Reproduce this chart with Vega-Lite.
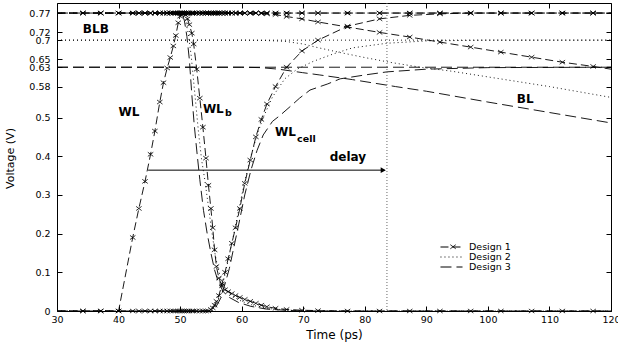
{
  "$schema": "https://vega.github.io/schema/vega-lite/v6.json",
  "width": 554,
  "height": 308,
  "autosize": {"type": "none"},
  "padding": {"left": 57, "top": 3, "right": 7, "bottom": 32},
  "background": "white",
  "config": {
    "view": {"stroke": "black", "strokeWidth": 1},
    "font": "DejaVu Sans",
    "axis": {"labelFont": "DejaVu Sans", "labelFontSize": 9.5, "labelColor": "black", "tickColor": "black", "domain": false, "grid": false, "labelOverlap": false, "labelBound": false, "labelFlush": false}
  },
  "datasets": {
    "curves": [
      {"design": "Design 1", "t": 30, "WL": 0, "WLb": 0.77, "WLcell": 0, "BL": 0.77, "BLB": 0.77},
      {"design": "Design 1", "t": 34.2, "WL": 0, "WLb": 0.77, "WLcell": 0, "BL": 0.77, "BLB": 0.77},
      {"design": "Design 1", "t": 37.1, "WL": 0, "WLb": 0.77, "WLcell": 0, "BL": 0.77, "BLB": 0.77},
      {"design": "Design 1", "t": 40.0, "WL": 0, "WLb": 0.77, "WLcell": 0, "BL": 0.77, "BLB": 0.77},
      {"design": "Design 1", "t": 42.3, "WL": 0.19, "WLb": 0.77, "WLcell": 0, "BL": 0.77, "BLB": 0.77},
      {"design": "Design 1", "t": 43.3, "WL": 0.265, "WLb": 0.77, "WLcell": 0, "BL": 0.77, "BLB": 0.77},
      {"design": "Design 1", "t": 44.3, "WL": 0.335, "WLb": 0.77, "WLcell": 0, "BL": 0.77, "BLB": 0.77},
      {"design": "Design 1", "t": 45.2, "WL": 0.405, "WLb": 0.77, "WLcell": 0, "BL": 0.77, "BLB": 0.77},
      {"design": "Design 1", "t": 45.9, "WL": 0.465, "WLb": 0.77, "WLcell": 0, "BL": 0.77, "BLB": 0.77},
      {"design": "Design 1", "t": 46.7, "WL": 0.54, "WLb": 0.77, "WLcell": 0, "BL": 0.77, "BLB": 0.77},
      {"design": "Design 1", "t": 47.3, "WL": 0.59, "WLb": 0.77, "WLcell": 0, "BL": 0.77, "BLB": 0.77},
      {"design": "Design 1", "t": 47.9, "WL": 0.628, "WLb": 0.77, "WLcell": 0, "BL": 0.77, "BLB": 0.77},
      {"design": "Design 1", "t": 48.4, "WL": 0.655, "WLb": 0.77, "WLcell": 0, "BL": 0.77, "BLB": 0.77},
      {"design": "Design 1", "t": 48.9, "WL": 0.685, "WLb": 0.77, "WLcell": 0, "BL": 0.77, "BLB": 0.77},
      {"design": "Design 1", "t": 49.3, "WL": 0.712, "WLb": 0.77, "WLcell": 0, "BL": 0.77, "BLB": 0.77},
      {"design": "Design 1", "t": 49.7, "WL": 0.745, "WLb": 0.77, "WLcell": 0, "BL": 0.77, "BLB": 0.77},
      {"design": "Design 1", "t": 50.0, "WL": 0.762, "WLb": 0.77, "WLcell": 0, "BL": 0.77, "BLB": 0.77},
      {"design": "Design 1", "t": 50.3, "WL": 0.77, "WLb": 0.77, "WLcell": 0, "BL": 0.77, "BLB": 0.77},
      {"design": "Design 1", "t": 50.6, "WL": 0.77, "WLb": 0.768, "WLcell": 0, "BL": 0.77, "BLB": 0.77},
      {"design": "Design 1", "t": 50.9, "WL": 0.77, "WLb": 0.765, "WLcell": 0, "BL": 0.77, "BLB": 0.77},
      {"design": "Design 1", "t": 51.2, "WL": 0.77, "WLb": 0.755, "WLcell": 0, "BL": 0.77, "BLB": 0.77},
      {"design": "Design 1", "t": 51.5, "WL": 0.77, "WLb": 0.74, "WLcell": 0, "BL": 0.77, "BLB": 0.77},
      {"design": "Design 1", "t": 51.9, "WL": 0.77, "WLb": 0.718, "WLcell": 0, "BL": 0.77, "BLB": 0.77},
      {"design": "Design 1", "t": 52.2, "WL": 0.77, "WLb": 0.69, "WLcell": 0, "BL": 0.77, "BLB": 0.77},
      {"design": "Design 1", "t": 52.7, "WL": 0.77, "WLb": 0.625, "WLcell": 0, "BL": 0.77, "BLB": 0.77},
      {"design": "Design 1", "t": 53.2, "WL": 0.77, "WLb": 0.55, "WLcell": 0, "BL": 0.77, "BLB": 0.77},
      {"design": "Design 1", "t": 53.7, "WL": 0.77, "WLb": 0.475, "WLcell": 0, "BL": 0.77, "BLB": 0.77},
      {"design": "Design 1", "t": 54.2, "WL": 0.77, "WLb": 0.395, "WLcell": 0, "BL": 0.77, "BLB": 0.77},
      {"design": "Design 1", "t": 54.6, "WL": 0.77, "WLb": 0.325, "WLcell": 0, "BL": 0.77, "BLB": 0.77},
      {"design": "Design 1", "t": 55.0, "WL": 0.77, "WLb": 0.265, "WLcell": 0.004, "BL": 0.77, "BLB": 0.77},
      {"design": "Design 1", "t": 55.3, "WL": 0.77, "WLb": 0.215, "WLcell": 0.008, "BL": 0.77, "BLB": 0.77},
      {"design": "Design 1", "t": 55.6, "WL": 0.77, "WLb": 0.158, "WLcell": 0.015, "BL": 0.77, "BLB": 0.77},
      {"design": "Design 1", "t": 55.9, "WL": 0.77, "WLb": 0.115, "WLcell": 0.025, "BL": 0.77, "BLB": 0.77},
      {"design": "Design 1", "t": 56.3, "WL": 0.77, "WLb": 0.085, "WLcell": 0.04, "BL": 0.77, "BLB": 0.77},
      {"design": "Design 1", "t": 56.8, "WL": 0.77, "WLb": 0.065, "WLcell": 0.07, "BL": 0.77, "BLB": 0.77},
      {"design": "Design 1", "t": 57.3, "WL": 0.77, "WLb": 0.055, "WLcell": 0.1, "BL": 0.77, "BLB": 0.77},
      {"design": "Design 1", "t": 57.8, "WL": 0.77, "WLb": 0.05, "WLcell": 0.135, "BL": 0.77, "BLB": 0.77},
      {"design": "Design 1", "t": 58.4, "WL": 0.77, "WLb": 0.045, "WLcell": 0.175, "BL": 0.77, "BLB": 0.77},
      {"design": "Design 1", "t": 59.0, "WL": 0.77, "WLb": 0.04, "WLcell": 0.215, "BL": 0.77, "BLB": 0.77},
      {"design": "Design 1", "t": 59.7, "WL": 0.77, "WLb": 0.035, "WLcell": 0.265, "BL": 0.77, "BLB": 0.77},
      {"design": "Design 1", "t": 60.5, "WL": 0.77, "WLb": 0.03, "WLcell": 0.33, "BL": 0.77, "BLB": 0.77},
      {"design": "Design 1", "t": 61.4, "WL": 0.77, "WLb": 0.025, "WLcell": 0.39, "BL": 0.77, "BLB": 0.77},
      {"design": "Design 1", "t": 62.3, "WL": 0.77, "WLb": 0.02, "WLcell": 0.45, "BL": 0.77, "BLB": 0.77},
      {"design": "Design 1", "t": 63.2, "WL": 0.77, "WLb": 0.015, "WLcell": 0.495, "BL": 0.769, "BLB": 0.77},
      {"design": "Design 1", "t": 64.1, "WL": 0.77, "WLb": 0.011, "WLcell": 0.535, "BL": 0.768, "BLB": 0.77},
      {"design": "Design 1", "t": 65.5, "WL": 0.77, "WLb": 0.007, "WLcell": 0.58, "BL": 0.766, "BLB": 0.77},
      {"design": "Design 1", "t": 67.3, "WL": 0.77, "WLb": 0.004, "WLcell": 0.63, "BL": 0.761, "BLB": 0.77},
      {"design": "Design 1", "t": 69.8, "WL": 0.77, "WLb": 0.002, "WLcell": 0.672, "BL": 0.755, "BLB": 0.77},
      {"design": "Design 1", "t": 72.4, "WL": 0.77, "WLb": 0.001, "WLcell": 0.70, "BL": 0.747, "BLB": 0.77},
      {"design": "Design 1", "t": 77.2, "WL": 0.77, "WLb": 0, "WLcell": 0.736, "BL": 0.734, "BLB": 0.77},
      {"design": "Design 1", "t": 82.4, "WL": 0.77, "WLb": 0, "WLcell": 0.755, "BL": 0.72, "BLB": 0.77},
      {"design": "Design 1", "t": 87.3, "WL": 0.77, "WLb": 0, "WLcell": 0.764, "BL": 0.708, "BLB": 0.77},
      {"design": "Design 1", "t": 92.2, "WL": 0.77, "WLb": 0, "WLcell": 0.768, "BL": 0.695, "BLB": 0.77},
      {"design": "Design 1", "t": 97.2, "WL": 0.77, "WLb": 0, "WLcell": 0.77, "BL": 0.682, "BLB": 0.77},
      {"design": "Design 1", "t": 102.1, "WL": 0.77, "WLb": 0, "WLcell": 0.77, "BL": 0.669, "BLB": 0.77},
      {"design": "Design 1", "t": 107.1, "WL": 0.77, "WLb": 0, "WLcell": 0.77, "BL": 0.656, "BLB": 0.77},
      {"design": "Design 1", "t": 112.1, "WL": 0.77, "WLb": 0, "WLcell": 0.77, "BL": 0.643, "BLB": 0.77},
      {"design": "Design 1", "t": 117.1, "WL": 0.77, "WLb": 0, "WLcell": 0.77, "BL": 0.632, "BLB": 0.77},
      {"design": "Design 1", "t": 120, "WL": 0.77, "WLb": 0, "WLcell": 0.77, "BL": 0.625, "BLB": 0.77},

      {"design": "Design 2", "t": 30, "WLb": 0.77, "WLcell": 0, "BL": 0.70, "BLB": 0.70},
      {"design": "Design 2", "t": 50.3, "WLb": 0.77},
      {"design": "Design 2", "t": 50.8, "WLb": 0.755},
      {"design": "Design 2", "t": 51.3, "WLb": 0.72},
      {"design": "Design 2", "t": 51.8, "WLb": 0.66},
      {"design": "Design 2", "t": 52.4, "WLb": 0.56},
      {"design": "Design 2", "t": 53.0, "WLb": 0.46},
      {"design": "Design 2", "t": 53.5, "WLb": 0.39},
      {"design": "Design 2", "t": 54.0, "WLb": 0.34},
      {"design": "Design 2", "t": 54.6, "WLb": 0.27},
      {"design": "Design 2", "t": 54.8, "WLcell": 0},
      {"design": "Design 2", "t": 55.2, "WLb": 0.2},
      {"design": "Design 2", "t": 55.5, "WLcell": 0.008},
      {"design": "Design 2", "t": 55.7, "WLb": 0.145},
      {"design": "Design 2", "t": 56.1, "WLb": 0.114},
      {"design": "Design 2", "t": 56.2, "WLcell": 0.03},
      {"design": "Design 2", "t": 56.7, "WLb": 0.08},
      {"design": "Design 2", "t": 57.0, "WLcell": 0.075},
      {"design": "Design 2", "t": 57.5, "WLb": 0.055},
      {"design": "Design 2", "t": 57.8, "WLcell": 0.13},
      {"design": "Design 2", "t": 58.5, "WLb": 0.038},
      {"design": "Design 2", "t": 58.6, "WLcell": 0.19},
      {"design": "Design 2", "t": 59.5, "WLcell": 0.26},
      {"design": "Design 2", "t": 60, "WLb": 0.025, "BL": 0.70},
      {"design": "Design 2", "t": 60.5, "WLcell": 0.335},
      {"design": "Design 2", "t": 61.5, "WLcell": 0.40},
      {"design": "Design 2", "t": 62, "WLb": 0.014},
      {"design": "Design 2", "t": 62.5, "WLcell": 0.455},
      {"design": "Design 2", "t": 63.5, "WLcell": 0.50},
      {"design": "Design 2", "t": 64, "BL": 0.699},
      {"design": "Design 2", "t": 64.5, "WLb": 0.006},
      {"design": "Design 2", "t": 65, "WLcell": 0.553},
      {"design": "Design 2", "t": 67, "WLcell": 0.60, "BL": 0.697},
      {"design": "Design 2", "t": 68, "WLb": 0.002},
      {"design": "Design 2", "t": 69, "WLcell": 0.625},
      {"design": "Design 2", "t": 70, "BL": 0.69},
      {"design": "Design 2", "t": 71.6, "WLcell": 0.645},
      {"design": "Design 2", "t": 72, "WLb": 0, "BL": 0.682},
      {"design": "Design 2", "t": 75, "WLcell": 0.665},
      {"design": "Design 2", "t": 76, "BL": 0.668},
      {"design": "Design 2", "t": 78, "WLcell": 0.68},
      {"design": "Design 2", "t": 80, "BL": 0.655},
      {"design": "Design 2", "t": 83.6, "WLcell": 0.692},
      {"design": "Design 2", "t": 84, "BL": 0.643},
      {"design": "Design 2", "t": 89, "BL": 0.63},
      {"design": "Design 2", "t": 90, "WLcell": 0.698},
      {"design": "Design 2", "t": 94, "BL": 0.62},
      {"design": "Design 2", "t": 98, "BL": 0.61},
      {"design": "Design 2", "t": 100, "WLcell": 0.70},
      {"design": "Design 2", "t": 104, "BL": 0.595},
      {"design": "Design 2", "t": 110, "BL": 0.58},
      {"design": "Design 2", "t": 115, "BL": 0.566},
      {"design": "Design 2", "t": 120, "WLb": 0, "WLcell": 0.70, "BL": 0.552, "BLB": 0.70},

      {"design": "Design 3", "t": 30, "WLb": 0.77, "WLcell": 0, "BL": 0.63, "BLB": 0.63},
      {"design": "Design 3", "t": 50.3, "WLb": 0.77},
      {"design": "Design 3", "t": 50.7, "WLb": 0.75},
      {"design": "Design 3", "t": 51.1, "WLb": 0.71},
      {"design": "Design 3", "t": 51.5, "WLb": 0.65},
      {"design": "Design 3", "t": 51.9, "WLb": 0.56},
      {"design": "Design 3", "t": 52.3, "WLb": 0.48},
      {"design": "Design 3", "t": 52.8, "WLb": 0.40},
      {"design": "Design 3", "t": 53.2, "WLb": 0.34},
      {"design": "Design 3", "t": 53.8, "WLb": 0.26},
      {"design": "Design 3", "t": 54.4, "WLb": 0.2},
      {"design": "Design 3", "t": 55.0, "WLb": 0.15, "WLcell": 0},
      {"design": "Design 3", "t": 55.6, "WLb": 0.106},
      {"design": "Design 3", "t": 55.8, "WLcell": 0.01},
      {"design": "Design 3", "t": 56.2, "WLb": 0.075},
      {"design": "Design 3", "t": 56.5, "WLcell": 0.03},
      {"design": "Design 3", "t": 57, "WLb": 0.05},
      {"design": "Design 3", "t": 57.3, "WLcell": 0.07},
      {"design": "Design 3", "t": 58, "WLb": 0.035, "WLcell": 0.11},
      {"design": "Design 3", "t": 58.8, "WLcell": 0.17},
      {"design": "Design 3", "t": 59.5, "WLb": 0.022},
      {"design": "Design 3", "t": 59.6, "WLcell": 0.23},
      {"design": "Design 3", "t": 60, "BL": 0.63},
      {"design": "Design 3", "t": 60.5, "WLcell": 0.3},
      {"design": "Design 3", "t": 61.5, "WLb": 0.012, "WLcell": 0.364},
      {"design": "Design 3", "t": 62.5, "WLcell": 0.415},
      {"design": "Design 3", "t": 63, "BL": 0.629},
      {"design": "Design 3", "t": 63.5, "WLcell": 0.455},
      {"design": "Design 3", "t": 64, "WLb": 0.005},
      {"design": "Design 3", "t": 65, "WLcell": 0.49},
      {"design": "Design 3", "t": 66, "BL": 0.625},
      {"design": "Design 3", "t": 66.2, "WLcell": 0.505},
      {"design": "Design 3", "t": 67, "WLb": 0.002},
      {"design": "Design 3", "t": 68, "WLcell": 0.53},
      {"design": "Design 3", "t": 69.4, "WLcell": 0.55},
      {"design": "Design 3", "t": 69.9, "BL": 0.616},
      {"design": "Design 3", "t": 70, "WLb": 0},
      {"design": "Design 3", "t": 71.1, "WLcell": 0.571},
      {"design": "Design 3", "t": 72.7, "BL": 0.61},
      {"design": "Design 3", "t": 74, "WLcell": 0.587},
      {"design": "Design 3", "t": 76, "WLcell": 0.60},
      {"design": "Design 3", "t": 78, "BL": 0.598},
      {"design": "Design 3", "t": 80, "WLcell": 0.61},
      {"design": "Design 3", "t": 83.6, "WLcell": 0.618},
      {"design": "Design 3", "t": 85, "BL": 0.58},
      {"design": "Design 3", "t": 90, "WLcell": 0.625, "BL": 0.568},
      {"design": "Design 3", "t": 100, "WLcell": 0.629, "BL": 0.54},
      {"design": "Design 3", "t": 110, "BL": 0.513},
      {"design": "Design 3", "t": 120, "WLb": 0, "WLcell": 0.63, "BL": 0.486, "BLB": 0.63}
    ],
    "labels": [
      {"label": "BLB", "t": 34.2, "v": 0.729},
      {"label": "WL", "t": 40.0, "v": 0.515},
      {"label": "WL", "t": 53.7, "v": 0.523},
      {"label": "WL", "t": 65.4, "v": 0.463},
      {"label": "delay", "t": 74.3, "v": 0.397},
      {"label": "BL", "t": 104.7, "v": 0.548}
    ],
    "subs": [
      {"label": "b", "t": 57.3, "v": 0.512},
      {"label": "cell", "t": 69.0, "v": 0.445}
    ]
  },
  "resolve": {"axis": {"x": "independent", "y": "independent"}},
  "layer": [
    {
      "data": {"name": "curves"},
      "transform": [
        {"fold": ["WL", "WLb", "WLcell", "BL", "BLB"], "as": ["c", "v"]},
        {"filter": "isValid(datum.v)"}
      ],
      "mark": {"type": "line", "color": "black", "strokeWidth": 0.9, "clip": true},
      "encoding": {
        "x": {"field": "t", "type": "quantitative", "scale": {"domain": [30, 120], "nice": false, "zero": false},
          "axis": {"orient": "bottom", "values": [30, 40, 50, 60, 70, 80, 90, 100, 110, 120], "format": "d", "tickSize": -5, "labelPadding": 8,
            "title": "Time (ps)", "titleFont": "DejaVu Sans", "titleFontSize": 12, "titleFontWeight": "normal", "titleColor": "black", "titleX": 277, "titleY": 23, "titleBaseline": "middle", "titleAlign": "center"}},
        "y": {"field": "v", "type": "quantitative", "scale": {"domain": [0, 0.796], "nice": false, "zero": false},
          "axis": {"orient": "left", "values": [0, 0.1, 0.2, 0.3, 0.4, 0.5, 0.58, 0.63, 0.65, 0.7, 0.72, 0.77], "format": ".2~f", "tickSize": -5, "labelPadding": 12,
            "title": "Voltage (V)", "titleFont": "DejaVu Sans", "titleFontSize": 11, "titleFontWeight": "normal", "titleColor": "black", "titleX": -47, "titleY": 155, "titleAngle": 270, "titleBaseline": "middle", "titleAlign": "center"}},
        "detail": {"field": "c"},
        "strokeDash": {"field": "design", "type": "nominal",
          "scale": {"domain": ["Design 1", "Design 2", "Design 3"], "range": [[8, 4], [1, 3], [11, 5]]},
          "legend": {"orient": "none", "legendX": 389.5, "legendY": 239, "title": null, "symbolType": "M-2.45,0L2.45,0", "symbolSize": 81, "symbolStrokeWidth": 1, "symbolStrokeColor": "black", "labelFont": "DejaVu Sans", "labelFontSize": 9.5, "labelColor": "black", "labelOffset": 12.5, "rowPadding": 0, "padding": 0}}
      }
    },
    {
      "data": {"name": "curves"},
      "transform": [
        {"fold": ["WL", "WLb", "WLcell", "BL", "BLB"], "as": ["c", "v"]},
        {"filter": "isValid(datum.v)"},
        {"filter": "datum.design == 'Design 1' && datum.t > 31 && datum.t < 119"}
      ],
      "mark": {"type": "point", "filled": false, "stroke": "black", "strokeWidth": 0.8, "size": 30, "opacity": 1},
      "encoding": {
        "x": {"field": "t", "type": "quantitative", "scale": {"domain": [30, 120], "nice": false, "zero": false},
          "axis": {"orient": "top", "values": [30, 40, 50, 60, 70, 80, 90, 100, 110, 120], "tickSize": -5, "labels": false, "title": null}},
        "y": {"field": "v", "type": "quantitative", "scale": {"domain": [0, 0.796], "nice": false, "zero": false},
          "axis": {"orient": "right", "values": [0, 0.1, 0.2, 0.3, 0.4, 0.5, 0.58, 0.63, 0.65, 0.7, 0.72, 0.77], "tickSize": -5, "labels": false, "title": null}},
        "shape": {"field": "design", "type": "nominal",
          "scale": {"domain": ["Design 1"], "range": ["M-1,-0.75L1,0.75M-1,0.75L1,-0.75"]},
          "legend": {"orient": "none", "legendX": 391.3, "legendY": 239, "title": null, "symbolSize": 30, "symbolStrokeWidth": 0.8, "symbolStrokeColor": "black", "labelOpacity": 0, "labelFont": "DejaVu Sans", "labelFontSize": 9.5, "labelOffset": 6, "rowPadding": 0, "padding": 0}}
      }
    },
    {
      "data": {"values": [{"t": 83.6}]},
      "mark": {"type": "rule", "color": "#666666", "strokeWidth": 1, "strokeDash": [1, 2]},
      "encoding": {"x": {"field": "t", "type": "quantitative", "axis": null}}
    },
    {
      "data": {"values": [{"t": 44.8, "t2": 83.2, "v": 0.364}]},
      "mark": {"type": "rule", "color": "black", "strokeWidth": 1},
      "encoding": {
        "x": {"field": "t", "type": "quantitative", "axis": null},
        "x2": {"field": "t2"},
        "y": {"field": "v", "type": "quantitative", "axis": null}
      }
    },
    {
      "data": {"values": [{"t": 83.0, "v": 0.364}]},
      "mark": {"type": "point", "shape": "triangle-right", "filled": true, "color": "black", "size": 35, "opacity": 1},
      "encoding": {
        "x": {"field": "t", "type": "quantitative", "axis": null},
        "y": {"field": "v", "type": "quantitative", "axis": null}
      }
    },
    {
      "data": {"name": "labels"},
      "mark": {"type": "text", "font": "DejaVu Sans", "fontWeight": "bold", "fontSize": 12, "align": "left", "baseline": "middle", "color": "black"},
      "encoding": {
        "x": {"field": "t", "type": "quantitative", "axis": null},
        "y": {"field": "v", "type": "quantitative", "axis": null},
        "text": {"field": "label"}
      }
    },
    {
      "data": {"name": "subs"},
      "mark": {"type": "text", "font": "DejaVu Sans", "fontWeight": "bold", "fontSize": 9.5, "align": "left", "baseline": "middle", "color": "black"},
      "encoding": {
        "x": {"field": "t", "type": "quantitative", "axis": null},
        "y": {"field": "v", "type": "quantitative", "axis": null},
        "text": {"field": "label"}
      }
    }
  ]
}
